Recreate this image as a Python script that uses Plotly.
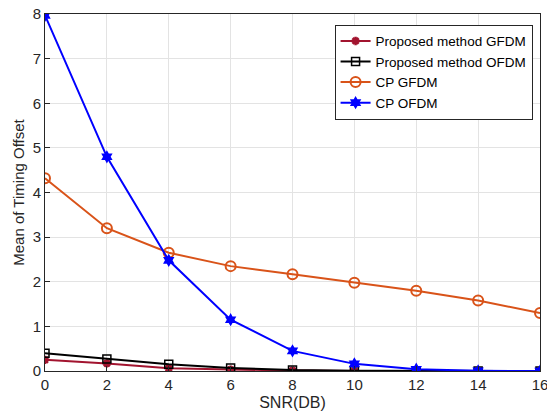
import plotly.graph_objects as go

snr = [0, 2, 4, 6, 8, 10, 12, 14, 16]
prop_gfdm = [0.25, 0.17, 0.06, 0.03, 0.01, 0.0, 0.0, 0.0, 0.0]
prop_ofdm = [0.40, 0.27, 0.15, 0.07, 0.02, 0.005, 0.0, 0.0, 0.0]
cp_gfdm = [4.32, 3.20, 2.65, 2.35, 2.17, 1.98, 1.80, 1.58, 1.30]
cp_ofdm = [7.97, 4.80, 2.48, 1.15, 0.45, 0.16, 0.04, 0.005, 0.0]

x_ticks = [0, 2, 4, 6, 8, 10, 12, 14, 16]
y_ticks = [0, 1, 2, 3, 4, 5, 6, 7, 8]

FONT = "Liberation Sans, Arial"
TXT = "#262626"

fig = go.Figure()
fig.add_trace(go.Scatter(x=snr, y=prop_gfdm, mode="lines+markers", name="Proposed method GFDM",
                         line=dict(color="#A2142F", width=2),
                         marker=dict(symbol="asterisk", size=7, color="#A2142F", line=dict(color="#A2142F", width=2.5))))
fig.add_trace(go.Scatter(x=snr, y=prop_ofdm, mode="lines+markers", name="Proposed method OFDM",
                         line=dict(color="black", width=2),
                         marker=dict(symbol="square-open", size=8, color="black", line=dict(width=1.5))))
fig.add_trace(go.Scatter(x=snr, y=cp_gfdm, mode="lines+markers", name="CP GFDM",
                         line=dict(color="#D95319", width=2),
                         marker=dict(symbol="circle-open", size=10, color="#D95319", line=dict(width=2))))
fig.add_trace(go.Scatter(x=snr, y=cp_ofdm, mode="lines+markers", name="CP OFDM",
                         line=dict(color="#0000FF", width=2),
                         marker=dict(symbol="hexagram", size=10, color="#0000FF")))

axis_common = dict(showline=True, linecolor=TXT, linewidth=1, mirror=True,
                   showgrid=True, gridcolor="#E3E3E3", gridwidth=1, zeroline=False,
                   ticks="inside", ticklen=5, tickcolor=TXT,
                   ticklabeloverflow="allow", automargin=False,
                   tickfont=dict(family=FONT, size=15, color=TXT))

fig.update_xaxes(range=[0, 16], tickvals=x_ticks,
                 title=dict(text="SNR(DB)", font=dict(family=FONT, size=16, color=TXT), standoff=4),
                 **axis_common)
fig.update_yaxes(range=[0, 8], tickvals=y_ticks,
                 title=dict(text="Mean of Timing Offset", font=dict(family=FONT, size=15, color=TXT), standoff=4),
                 **axis_common)

fig.update_layout(
    width=547, height=418,
    margin=dict(l=45, r=7, t=14, b=47),
    paper_bgcolor="white", plot_bgcolor="white",
    showlegend=True,
    legend=dict(x=0.985, y=0.97, xanchor="right", yanchor="top",
                bgcolor="white", bordercolor=TXT, borderwidth=1,
                font=dict(family=FONT, size=13.5, color="black"),
                tracegroupgap=0, itemwidth=30),
)

fig.write_html("out.html")
